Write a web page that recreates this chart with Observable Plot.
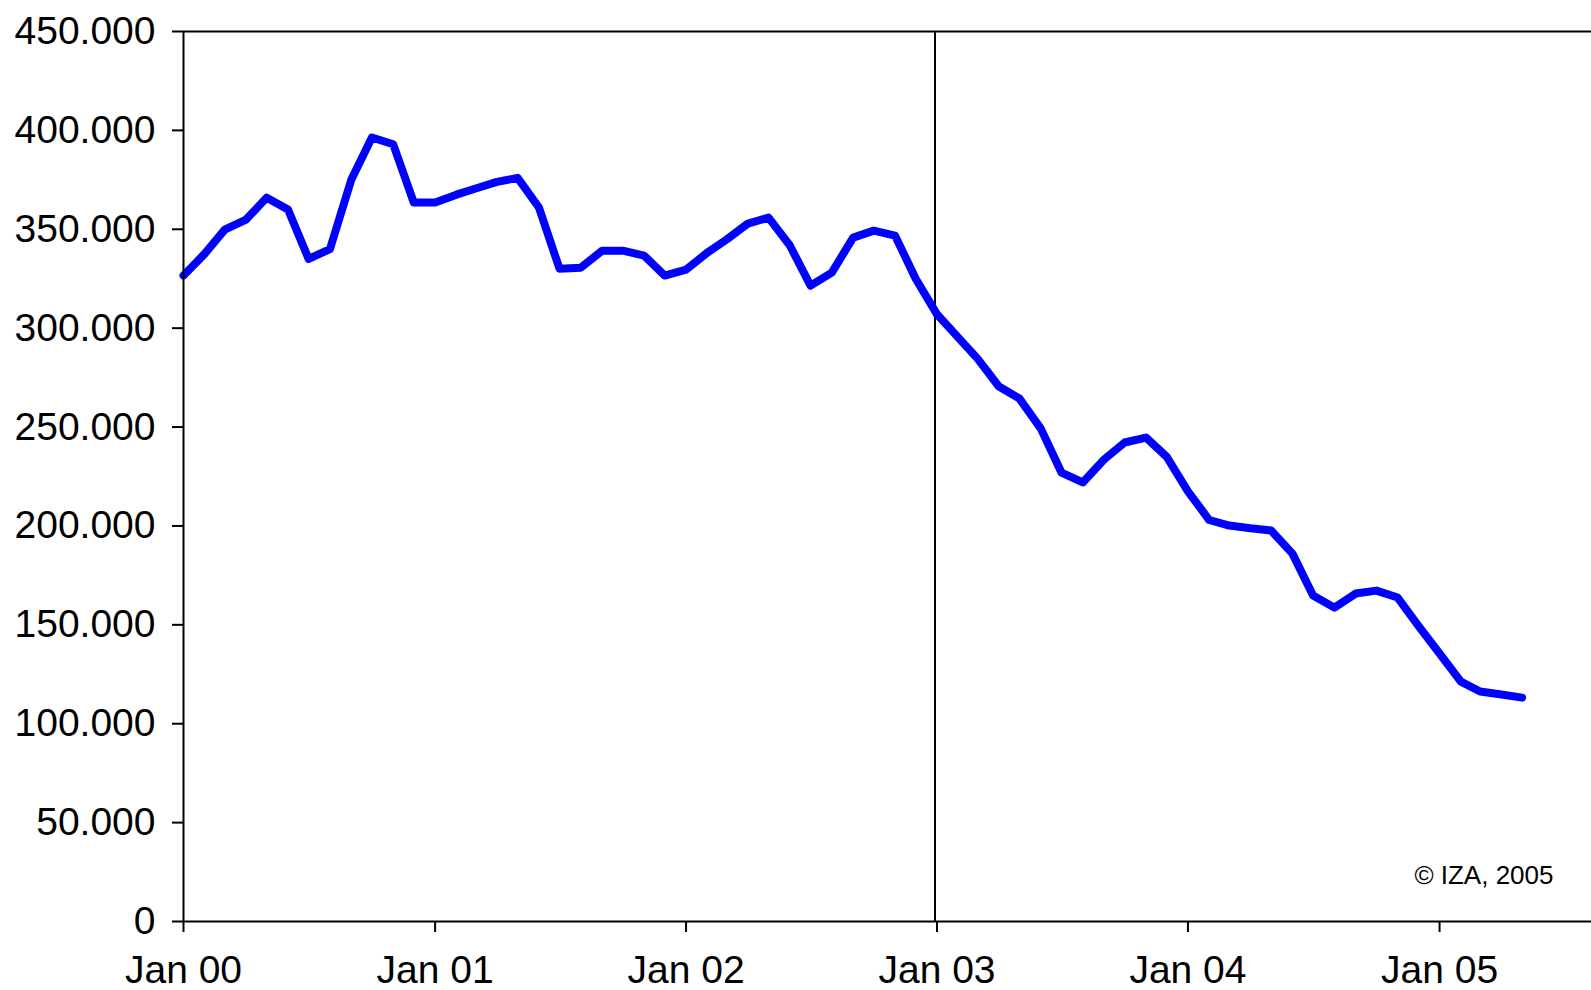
<!DOCTYPE html>
<html><head><meta charset="utf-8">
<script src="https://cdn.jsdelivr.net/npm/d3@7"></script>
<script src="https://cdn.jsdelivr.net/npm/@observablehq/plot@0.6"></script>
<style>body{margin:0;background:#fff;} svg{display:block}</style>
</head><body><div id="chart"></div>
<script>
// Monthly values, Jan 2000 – May 2005
const values = [
  326600, 337700, 349800, 354900, 366000, 360000, 335000, 340000, 375000, 396400, 393000, 363500,
  363500, 367500, 370600, 374000, 376000, 361000, 330000, 330600, 339200, 339200, 336700, 326600,
  329600, 338200, 344800, 352900, 355900, 341800, 321500, 328100, 345800, 349300, 346800, 325000,
  307000, 295200, 284600, 270500, 264400, 249200, 227000, 222000, 233600, 242200, 244700, 235000,
  217500, 203000, 200200, 198800, 197700, 186000, 164800, 158700, 165800, 167300, 163800, 149600,
  135500, 121300, 116300, 114800, 113200
];
const startYear = 2000;
const xTickYears = [2000, 2001, 2002, 2003, 2004, 2005];
const xTickLabels = ["Jan 00", "Jan 01", "Jan 02", "Jan 03", "Jan 04", "Jan 05"];
const yTicks = [0, 50000, 100000, 150000, 200000, 250000, 300000, 350000, 400000, 450000];
const markerYear = 2003;
const caption = "© IZA, 2005";

const months = values.map((_, i) => new Date(Date.UTC(startYear, i, 1)));
const data = values.map((v, i) => ({date: months[i], value: v}));
const xTicks = xTickYears.map(y => new Date(Date.UTC(y, 0, 1)));
const labelOf = d => xTickLabels[xTicks.findIndex(t => +t === +d)];
const de = d3.formatLocale({decimal: ",", thousands: ".", grouping: [3], currency: ["", " €"]});
const yFmt = de.format(",d");

const W = 1591, H = 990;
const chart = Plot.plot({
  width: W, height: H,
  marginLeft: 183, marginRight: 0, marginTop: 31, marginBottom: 69,
  style: {fontFamily: "'Liberation Sans', Arial, sans-serif", fontSize: "39px", color: "#000", background: "#fff"},
  x: {type: "utc", domain: [new Date(Date.UTC(2000, 0, 1)), new Date(Date.UTC(2005, 7, 10))]},
  y: {domain: [0, 450000]},
  marks: [
    Plot.ruleY([450000], {stroke: "#000", strokeWidth: 2}),
    Plot.ruleX([new Date(Date.UTC(markerYear, 0, 1))], {y1: 0, y2: 450000, stroke: "#000", strokeWidth: 2, dx: -2}),
    Plot.line(data, {x: "date", y: "value", stroke: "#0000ff", strokeWidth: 8}),
    Plot.axisY({ticks: yTicks, tickFormat: yFmt, tickSize: 11, tickPadding: 17, label: null, strokeWidth: 2, fontSize: 39}),
    Plot.axisX({ticks: xTicks, tickFormat: labelOf, tickSize: 11, tickPadding: 23, label: null, strokeWidth: 2, fontSize: 39}),
    Plot.ruleY([0], {stroke: "#000", strokeWidth: 2}),
    Plot.ruleX([new Date(Date.UTC(2000, 0, 1))], {y1: 0, y2: 450000, stroke: "#000", strokeWidth: 2}),
    Plot.text([caption], {frameAnchor: "bottom-right", dx: -38, dy: -38, fontSize: 26, textAnchor: "end", lineAnchor: "bottom"})
  ]
});
document.getElementById("chart").appendChild(chart);
</script>
</body></html>
